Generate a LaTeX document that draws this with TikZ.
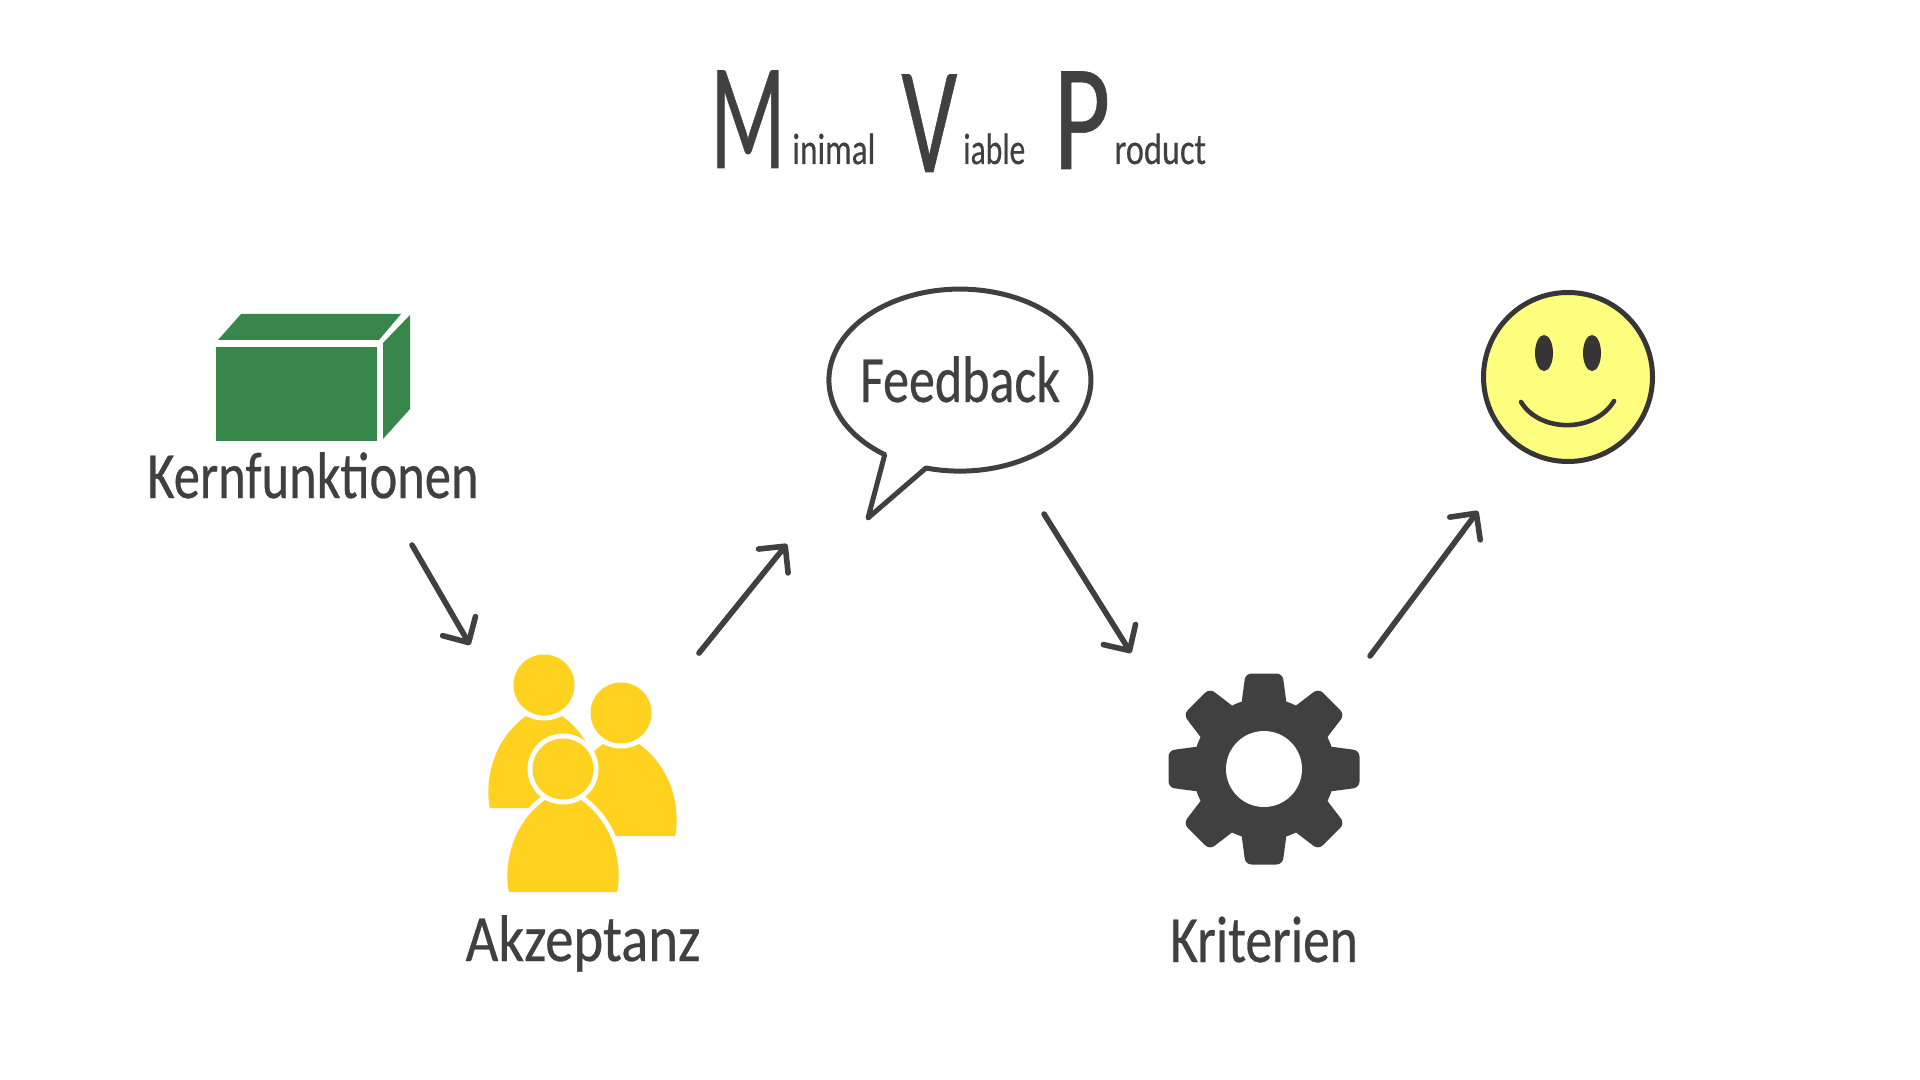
\documentclass[tikz,border=0pt]{standalone}
\usepackage{fontspec}
\usepackage{xcolor}
\usetikzlibrary{arrows.meta}
\newfontfamily\handfont[FakeStretch=0.78,FakeBold=0.4]{Carlito}
\definecolor{ink}{HTML}{404040}
\definecolor{boxgreen}{HTML}{38864A}
\definecolor{folkyellow}{HTML}{FFD220}
\definecolor{smileyellow}{HTML}{FFFF7F}
\tikzset{
  lbl/.style={font=\handfont\fontsize{33}{36}\selectfont,text=ink,anchor=base,inner sep=0pt},
  bigl/.style={font=\handfont\fontsize{76}{80}\selectfont,text=ink,anchor=base west,inner sep=0pt},
  smalll/.style={font=\handfont\fontsize{22}{25}\selectfont,text=ink,anchor=base west,inner sep=0pt},
  flow/.style={draw=ink,line width=2.8pt,line cap=round,-{Straight Barb[length=9.5pt,width=19pt,line cap=round,round]}},
  ringed/.style={fill=folkyellow,preaction={draw=white,line width=5pt}}
}
\newcommand{\person}[2]{
  \begin{scope}[shift={(#1,#2)}]
    \path[ringed] (-54,123) .. controls (-58,108) and (-58,60) .. (-18,31) .. controls (-8,36) and (8,36) .. (18,31) .. controls (58,60) and (58,108) .. (54,123) -- cycle;
    \path[ringed] (0,0) circle[radius=30.5];
  \end{scope}
}
\begin{document}
\begin{tikzpicture}[x=0.5pt,y=-0.5pt]
  \useasboundingbox (0,0) rectangle (1920,1080);

  % title
  \node (tM) at (710,168) [bigl] {\scalebox{0.74}[1]{M}};
  \node (tinimal) at (792,164) [smalll] {\scalebox{0.97}[1]{inimal}};
  \node (tV) at (901,172) [bigl] {\scalebox{0.83}[1]{V}};
  \node (tiable) at (963,164) [smalll] {\scalebox{0.92}[1]{iable}};
  \node (tP) at (1053,169) [bigl] {\scalebox{0.93}[1]{P}};
  \node (troduct) at (1114,164) [smalll] {roduct};

  % box
  \fill[boxgreen] (216,347) rectangle (377,441);
  \fill[boxgreen] (218,340) -- (241,314) -- (401,314) -- (379,340) -- cycle;
  \fill[boxgreen] (383,343) -- (410,315) -- (410,409) -- (383,439) -- cycle;
  \node (kern) at (313,498) [lbl] {\scalebox{1.02}[1]{Kernfunktionen}};

  % people
  \person{544}{685}
  \person{621}{713}
  \person{563}{769}
  \node (akz) at (583,961) [lbl] {\scalebox{1.1}[1]{Akzeptanz}};

  % bubble
  \draw[ink,line width=2.5pt,line join=round] (868,518) -- (926,468) arc[start angle=105,end angle=-235,x radius=131,y radius=91] -- cycle;
  \node (feedback) at (960,402) [lbl] {\scalebox{1.01}[1]{Feedback}};

  % gear
  \fill[ink] (1264,769) circle[radius=71];
  \foreach \a in {0,45,...,315}
    \fill[ink,shift={(1264,769)},rotate=\a,rounded corners=3] (-23,-62) -- (-18.5,-95.5) -- (18.5,-95.5) -- (23,-62) -- cycle;
  \fill[white] (1264,769) circle[radius=38];
  \node (krit) at (1264,962) [lbl] {\scalebox{1.04}[1]{Kriterien}};

  % smiley
  \draw[ink!85!black,fill=smileyellow,line width=2.5pt] (1568,377) circle[radius=84.5];
  \fill[ink!85!black] (1544,353) ellipse[x radius=9,y radius=18];
  \fill[ink!85!black] (1592,353) ellipse[x radius=9,y radius=18];
  \draw[ink!85!black,line width=2.3pt,line cap=round] (1521,402) .. controls (1540,433) and (1595,433) .. (1614,401);

  % arrows
  \coordinate (a1) at (412,545);
  \coordinate (a2) at (470,645);
  \coordinate (b1) at (699,653);
  \coordinate (b2) at (787,544);
  \coordinate (c1) at (1044,514);
  \coordinate (c2) at (1131,653);
  \coordinate (d1) at (1370,656);
  \coordinate (d2) at (1478,511);
  \draw[flow] (a1) -- (a2);
  \draw[flow] (b1) -- (b2);
  \draw[flow] (c1) -- (c2);
  \draw[flow] (d1) -- (d2);
\end{tikzpicture}
\end{document}
